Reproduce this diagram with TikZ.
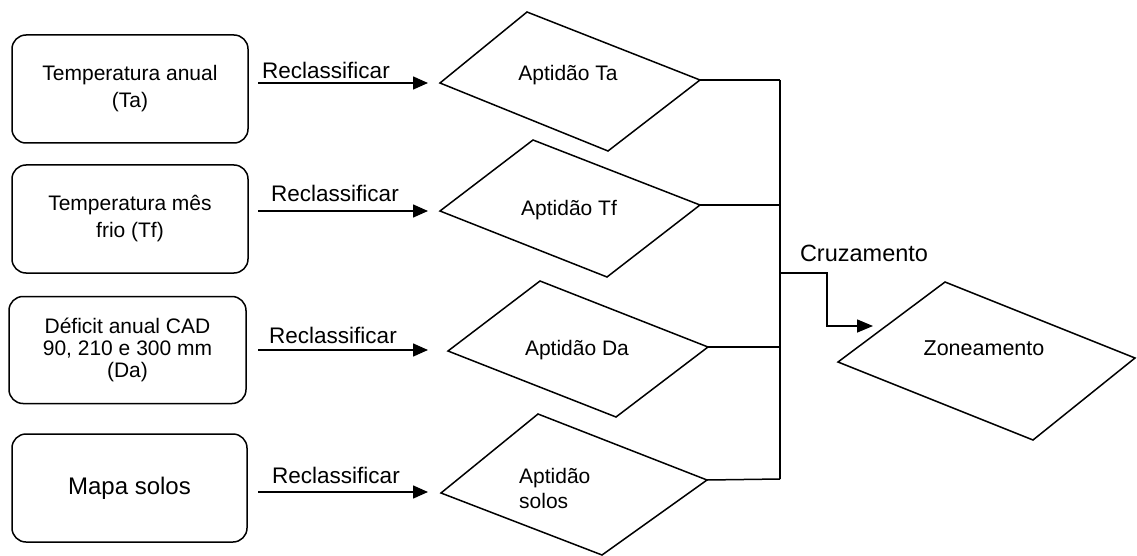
\documentclass[tikz,border=0pt]{standalone}
\usepackage{fontspec}
\setmainfont{Liberation Sans}
\usetikzlibrary{arrows.meta}
\tikzset{
  inbox/.style={draw, line width=1.5pt, rounded corners=14pt, minimum width=236pt, minimum height=108pt, inner sep=0pt, align=center, font=\fontsize{21}{27}\selectfont},
  dia/.style={draw, line width=1.5pt, line join=miter},
  lbl/.style={inner sep=0pt, font=\fontsize{22.5}{27}\selectfont},
  dtxt/.style={inner sep=0pt, font=\fontsize{21}{25}\selectfont},
  arr/.style={line width=1.5pt, -{Triangle[length=15pt,width=13pt]}},
  ln/.style={line width=1.5pt}
}
\begin{document}
\begin{tikzpicture}[x=1pt,y=-1pt]
\useasboundingbox (0,0) rectangle (1137,556);
% input boxes
\node[inbox] (b1) at (130,89) {Temperatura anual\\(Ta)};
\node[inbox] (b2) at (130,219) {Temperatura mês\\frio (Tf)};
\node[inbox, minimum width=237pt, minimum height=107pt, font=\fontsize{21}{22}\selectfont] (b3) at (127.5,350) {Déficit anual CAD\\90, 210 e 300 mm\\(Da)};
\node[inbox, minimum width=235pt, font=\fontsize{24}{28}\selectfont] (b4) at (129.5,488) {Mapa solos};
% diamond vertices
\coordinate (d1L) at (440,83);  \coordinate (d1T) at (527,12);  \coordinate (d1R) at (700,80);  \coordinate (d1B) at (608,151);
\coordinate (d2L) at (440,211); \coordinate (d2T) at (533,140); \coordinate (d2R) at (700,205); \coordinate (d2B) at (607,277);
\coordinate (d3L) at (448,351); \coordinate (d3T) at (540,281); \coordinate (d3R) at (708,347); \coordinate (d3B) at (616,417);
\coordinate (d4L) at (441,493); \coordinate (d4T) at (538,414); \coordinate (d4R) at (707,480); \coordinate (d4B) at (602,555);
\coordinate (zL) at (838,362);  \coordinate (zT) at (945,282);  \coordinate (zR) at (1135,358); \coordinate (zB) at (1033,440);
\draw[dia] (d1L) -- (d1T) -- (d1R) -- (d1B) -- cycle;
\draw[dia] (d2L) -- (d2T) -- (d2R) -- (d2B) -- cycle;
\draw[dia] (d3L) -- (d3T) -- (d3R) -- (d3B) -- cycle;
\draw[dia] (d4L) -- (d4T) -- (d4R) -- (d4B) -- cycle;
\draw[dia] (zL) -- (zT) -- (zR) -- (zB) -- cycle;
\node[dtxt] (t1) at (568,75) {Aptidão Ta};
\node[dtxt] (t2) at (569,210) {Aptidão Tf};
\node[dtxt] (t3) at (577,350) {Aptidão Da};
\node[dtxt, align=left, anchor=west] (t4) at (519,488) {Aptidão\\solos};
\node[dtxt, font=\fontsize{21.5}{25}\selectfont] (tz) at (984,348) {Zoneamento};
% arrow start/end points
\coordinate (a1s) at (258,83);  \coordinate (a1e) at (428,83);
\coordinate (a2s) at (258,211); \coordinate (a2e) at (428,211);
\coordinate (a3s) at (258,350); \coordinate (a3e) at (428,350);
\coordinate (a4s) at (258,492); \coordinate (a4e) at (428,492);
\draw[arr] (a1s) -- (a1e);
\draw[arr] (a2s) -- (a2e);
\draw[arr] (a3s) -- (a3e);
\draw[arr] (a4s) -- (a4e);
\node[lbl] (r1) at (326,70) {Reclassificar};
\node[lbl] (r2) at (335,193) {Reclassificar};
\node[lbl] (r3) at (333,335) {Reclassificar};
\node[lbl] (r4) at (336,475) {Reclassificar};
% collector
\coordinate (c1) at (780,80);
\coordinate (c2) at (780,205);
\coordinate (c3) at (780,347);
\coordinate (c4) at (780,479);
\draw[ln] (d1R) -- (c1);
\draw[ln] (d2R) -- (c2);
\draw[ln] (d3R) -- (c3);
\draw[ln] (d4R) -- (c4);
\draw[ln] (c1) -- (c4);
\coordinate (cj) at (780,273);
\coordinate (ck) at (827,273);
\coordinate (ce) at (873,326);
\draw[arr, -{Triangle[length=16pt,width=13pt]}] (cj) -- (ck) |- (ce);
\node[lbl, font=\fontsize{23.5}{27}\selectfont] (cz) at (864,253) {Cruzamento};
\end{tikzpicture}
\end{document}
